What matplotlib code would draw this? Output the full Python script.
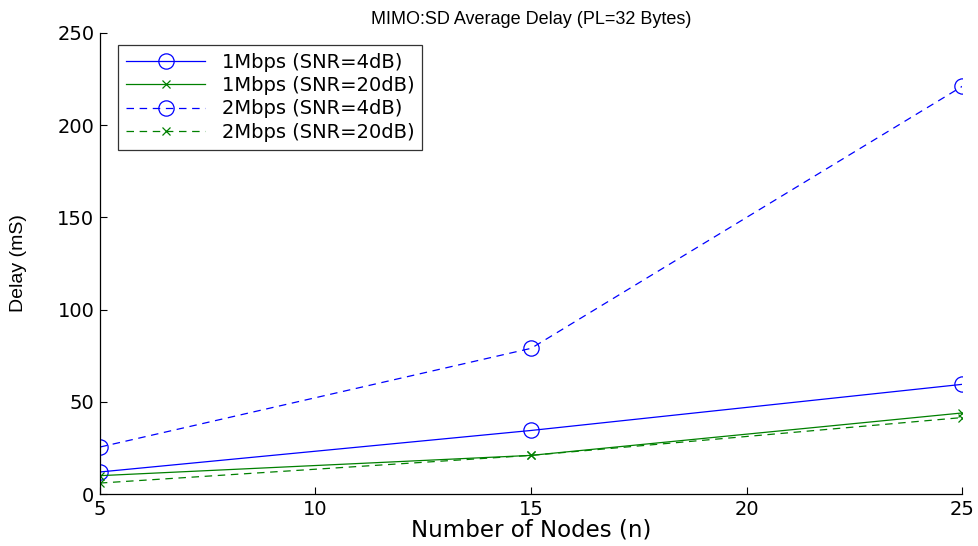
import numpy as np
import matplotlib
matplotlib.use('Agg')
import matplotlib.pyplot as plt

# 节点数与平均时延 (mS)
nodes = [5, 15, 25]
delay_1m_snr4 = [12, 34.5, 59.5]
delay_1m_snr20 = [10, 21, 44]
delay_2m_snr4 = [25.5, 79, 221]
delay_2m_snr20 = [6, 21, 41.5]

labels = ['1Mbps (SNR=4dB)', '1Mbps (SNR=20dB)',
          '2Mbps (SNR=4dB)', '2Mbps (SNR=20dB)']

plt.rcParams['font.family'] = ['DejaVu Sans']
plt.rcParams['xtick.direction'] = 'in'
plt.rcParams['ytick.direction'] = 'in'

blue = (0, 0, 1)
green = (0, 0.5, 0)

fig = plt.figure(figsize=(9.79, 5.46), dpi=100)
ax = fig.add_axes([0.102, 0.095, 0.881, 0.845])

ax.plot(nodes, delay_1m_snr4, '-', color=blue, lw=0.9, marker='o',
        ms=11, mfc='none', mew=0.9, label=labels[0])
ax.plot(nodes, delay_1m_snr20, '-', color=green, lw=0.9, marker='x',
        ms=6, mew=0.9, label=labels[1])
ax.plot(nodes, delay_2m_snr4, '--', color=blue, lw=0.9, marker='o',
        ms=11, mfc='none', mew=0.9, label=labels[2], dashes=(6, 4.5))
ax.plot(nodes, delay_2m_snr20, '--', color=green, lw=0.9, marker='x',
        ms=6, mew=0.9, label=labels[3], dashes=(6, 4.5))

ax.set_xlim(5, 25)
ax.set_ylim(0, 250)
ax.set_xticks([5, 10, 15, 20, 25])
ax.set_yticks([0, 50, 100, 150, 200, 250])
ax.tick_params(labelsize=14, length=5, width=0.8, pad=4)

for side in ['top', 'right']:
    ax.spines[side].set_visible(False)
for side in ['left', 'bottom']:
    ax.spines[side].set_linewidth(0.9)

ax.set_title('MIMO:SD Average Delay (PL=32 Bytes)', fontsize=13, pad=6,
             family=['Liberation Sans', 'DejaVu Sans'])
ax.set_xlabel('Number of Nodes (n)', fontsize=16.5, labelpad=0)
ax.set_ylabel('Delay (mS)', fontsize=14,
              family=['Liberation Sans Narrow', 'Liberation Sans'])
ax.yaxis.set_label_coords(-0.085, 0.5)

leg = ax.legend(loc='upper left', bbox_to_anchor=(0.021, 0.974), fontsize=14,
                frameon=True, fancybox=False, edgecolor='black',
                handlelength=4.1, borderpad=0.4, labelspacing=0.23,
                handletextpad=0.85, borderaxespad=0)
leg.get_frame().set_linewidth(0.9)

fig.savefig('out.png', dpi=100)
